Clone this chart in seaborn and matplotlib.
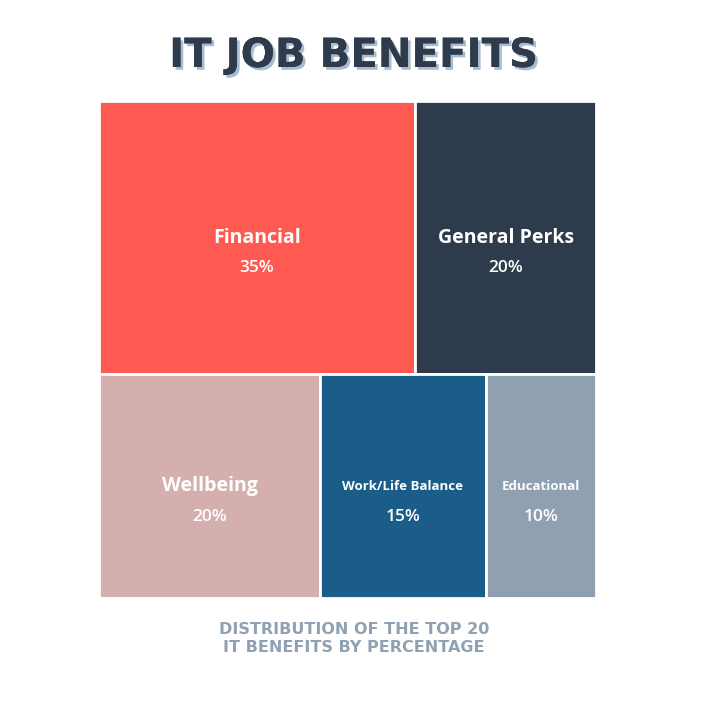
import matplotlib.pyplot as plt
import matplotlib.patheffects as pe
from matplotlib.patches import Rectangle
import seaborn as sns

# treemap rows (top row, bottom row)
rows = [
    ["Financial", "General Perks"],
    ["Wellbeing", "Work/Life Balance", "Educational"],
]
values = {
    "Financial": 35,
    "General Perks": 20,
    "Wellbeing": 20,
    "Work/Life Balance": 15,
    "Educational": 10,
}
colors = {
    "Financial": "#ff5a52",
    "General Perks": "#2d3b4c",
    "Wellbeing": "#d5afad",
    "Work/Life Balance": "#1b5d89",
    "Educational": "#8fa0b1",
}
small_labels = ["Work/Life Balance", "Educational"]

sns.set_theme(style="white")
plt.rcParams['font.family'] = ['Open Sans', 'DejaVu Sans']

fig = plt.figure(figsize=(7.08, 7.03), dpi=100)
fig.patch.set_facecolor("white")
ax = fig.add_axes([99 / 708, 1 - 598 / 703, 497 / 708, 497 / 703])
ax.set_xlim(0, 100)
ax.set_ylim(0, 100)
ax.axis("off")

total = sum(values.values())
top = 100
for row in rows:
    row_total = sum(values[k] for k in row)
    h = row_total / total * 100
    x = 0
    for k in row:
        w = values[k] / row_total * 100
        ax.add_patch(Rectangle((x, top - h), w, h, facecolor=colors[k],
                               edgecolor="white", linewidth=2))
        cx, cy = x + w / 2, top - h / 2
        fs = 9.5 if k in small_labels else 14
        ax.text(cx, cy, k, color="white", fontsize=fs, fontweight="bold",
                ha="center", va="center")
        ax.text(cx, cy - 6.2, f"{values[k]}%", color="white", fontsize=12.5,
                fontweight="semibold", ha="center", va="center")
        x += w
    top -= h

fig.text(0.5, 1 - 56 / 703, "IT JOB BENEFITS", ha="center", va="center",
         fontsize=29, fontweight="bold", color="#2d3b4c", family="DejaVu Sans",
         path_effects=[pe.withSimplePatchShadow(offset=(2, -2), shadow_rgbFace="#a9bccf", alpha=1),
                       pe.Normal()])
fig.text(0.5, 1 - 638 / 703, "DISTRIBUTION OF THE TOP 20\nIT BENEFITS BY PERCENTAGE",
         ha="center", va="center", fontsize=11.5, fontweight="bold",
         color="#8fa1b3", linespacing=1.25, family="DejaVu Sans")

fig.savefig("out.png", dpi=100)
